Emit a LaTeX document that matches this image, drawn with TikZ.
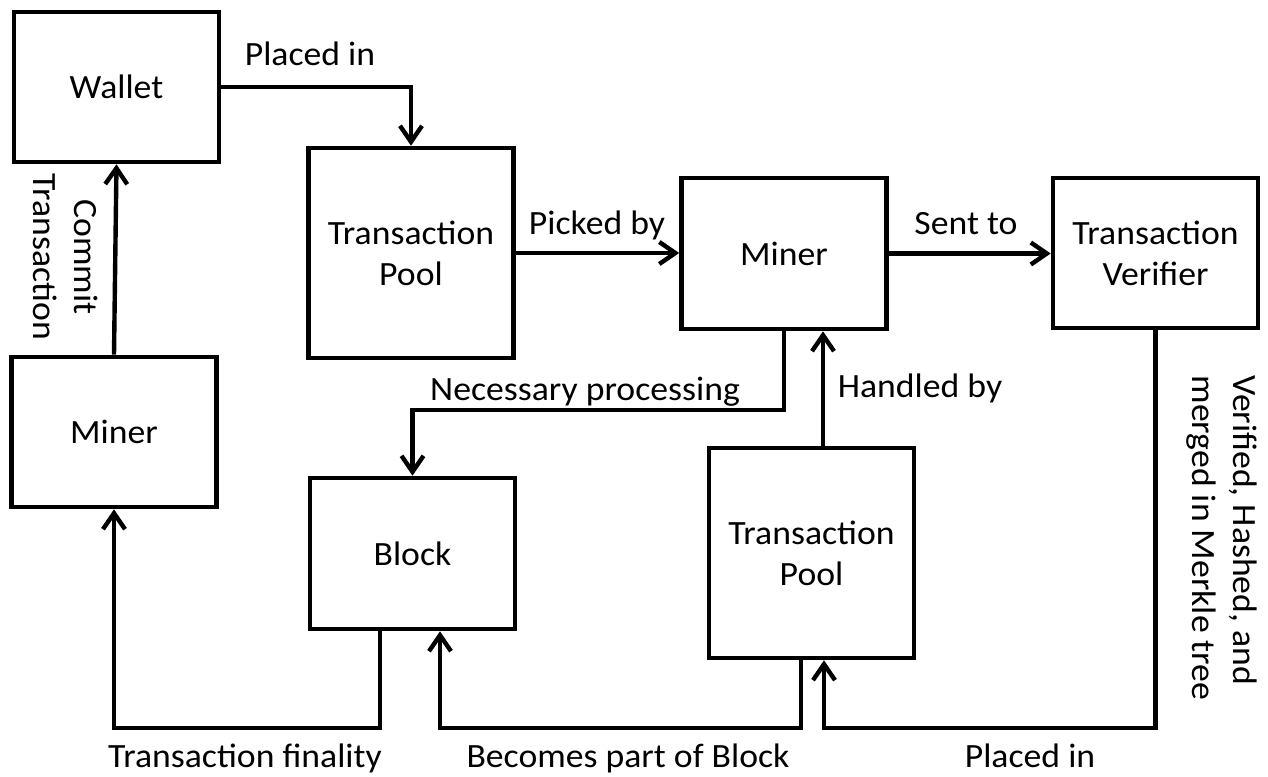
\documentclass[tikz,border=0pt]{standalone}
\usepackage{fontspec}
\setmainfont{Carlito}[FakeStretch=1.05]
\usetikzlibrary{arrows.meta}
\begin{document}
\begin{tikzpicture}[x=0.5pt, y=-0.5pt,
  every node/.style={font=\fontsize{17}{20.5}\selectfont},
  box/.style={draw, line width=2.3pt, minimum width=102.5pt, align=center, inner sep=0pt},
  arr/.style={line width=2.2pt, -{Straight Barb[length=8pt,width=11pt]}},
  lbl/.style={inner sep=0pt, anchor=base}]
\useasboundingbox (0,0) rectangle (1268,776);

% process boxes
\node[box, minimum height=75pt]   (wallet) at (116.5,87)   {Wallet};
\node[box, minimum height=75pt]   (minerL) at (114,432)    {Miner};
\node[box, minimum height=105pt]  (poolT)  at (411,253)    {Transaction\\Pool};
\node[box, minimum height=75.5pt] (miner)  at (784,253.5)  {Miner};
\node[box, minimum height=75pt]   (verif)  at (1155.5,253) {Transaction\\Verifier};
\node[box, minimum height=75.5pt] (block)  at (412.5,553.5){Block};
\node[box, minimum height=105pt]  (poolB)  at (811.5,553)  {Transaction\\Pool};

% routing helpers
\coordinate (nec) at (0,410);
\coordinate (low) at (0,728);
\coordinate (hx)  at (823,0);
\coordinate (px)  at (824,0);
\coordinate (bx1) at (801,0);
\coordinate (bx2) at (440,0);
\coordinate (fx)  at (380,0);

% connectors
\draw[arr] (wallet.east) -| (poolT.north);
\draw[arr] (poolT.east) -- (poolT.east -| miner.west);
\draw[arr] (miner.east) -- (miner.east -| verif.west);
\draw[arr] (miner.south) |- (nec -| block.north) -- (block.north);
\draw[arr] (poolB.north -| hx) -- (miner.south -| hx);
\draw[arr] (verif.south) |- (low -| px) -- (poolB.south -| px);
\draw[arr] (poolB.south -| bx1) |- (low -| bx2) -- (block.south -| bx2);
\draw[arr] (block.south -| fx) |- (low -| minerL.south) -- (minerL.south);
\draw[arr] (minerL.north) -- (wallet.south);

% connector labels
\node[lbl] (lPlaced)  at (310,65)   {Placed in};
\node[lbl] (lPicked)  at (597,234)  {Picked by};
\node[lbl] (lSent)    at (966,234)  {Sent to};
\node[lbl] (lNec)     at (585,400)  {Necessary processing};
\node[lbl] (lHandled) at (920,397)  {Handled by};
\node[lbl] (lFinal)   at (245,767)  {Transaction finality};
\node[lbl] (lBecomes) at (628,767)  {Becomes part of Block};
\node[lbl] (lPlaced2) at (1030,767) {Placed in};
\node[inner sep=0pt, rotate=-90, align=center] (lCommit) at (66,257) {Commit\\Transaction};
\node[inner sep=0pt, rotate=-90, align=left] (lVerified) at (1222,538) {Verified, Hashed, and\\merged in Merkle tree};
\end{tikzpicture}
\end{document}
